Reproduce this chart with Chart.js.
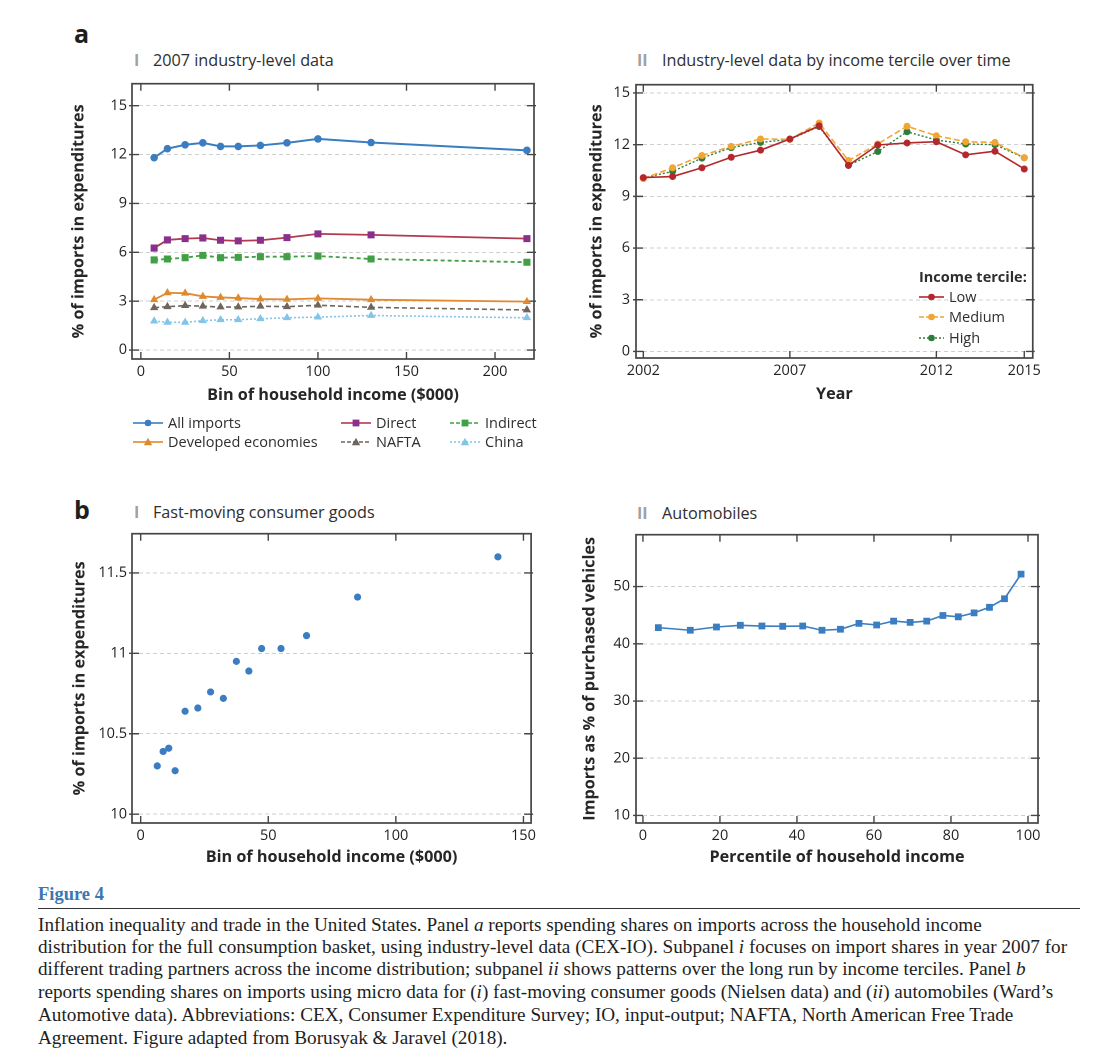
<!DOCTYPE html>
<html>
<head>
<meta charset="utf-8">
<script src="https://cdn.jsdelivr.net/npm/chart.js@4.4.1/dist/chart.umd.min.js"></script>
<style>
  html, body { margin: 0; padding: 0; background: #fff; }
  body { width: 1110px; height: 1062px; position: relative; overflow: hidden; font-family: 'Open Sans', sans-serif; color: #2b2b2b; }
  .abs { position: absolute; }
  .cv { position: absolute; }
  .panel { font-weight: 700; font-size: 25px; line-height: 24px; color: #1e1e1e; }
  .sub { font-size: 16.2px; line-height: 20px; color: #2e2e2e; white-space: nowrap; }
  .roman { color: #a0a0a0; font-size: 16px; line-height: 20px; font-weight: 700; }
  .leg { font-size: 14.5px; line-height: 18px; color: #2e2e2e; white-space: nowrap; display: flex; align-items: center; }
  .leg svg { margin-right: 5px; }
  .cap { font-family: 'Liberation Serif', 'DejaVu Serif', serif; font-size: 19.2px; line-height: 22px; color: #1e1e1e; white-space: nowrap; left: 38px; }
</style>
</head>
<body>

<div class="abs panel" style="left:74px; top:21px;">a</div>
<div class="abs roman" style="left:134px; top:50px;">I</div>
<div class="abs sub" style="left:153px; top:50px;">2007 industry-level data</div>
<div class="abs roman" style="left:637px; top:50px;">II</div>
<div class="abs sub" style="left:662px; top:50px;">Industry-level data by income tercile over time</div>

<div class="abs panel" style="left:74px; top:497px;">b</div>
<div class="abs roman" style="left:134px; top:502px;">I</div>
<div class="abs sub" style="left:153px; top:502px;">Fast-moving consumer goods</div>
<div class="abs roman" style="left:637px; top:503px;">II</div>
<div class="abs sub" style="left:662px; top:503px;">Automobiles</div>

<div class="cv" style="left:60px; top:70px; width:480px; height:345px;"><canvas id="cA1"></canvas></div>
<div class="cv" style="left:575px; top:70px; width:470px; height:345px;"><canvas id="cA2"></canvas></div>
<div class="cv" style="left:60px; top:520px; width:480px; height:360px;"><canvas id="cB1"></canvas></div>
<div class="cv" style="left:575px; top:520px; width:470px; height:360px;"><canvas id="cB2"></canvas></div>

<div id="legA1"></div>
<div id="legA2"></div>

<div class="abs" style="left:38px; top:883px; font-family:'Liberation Serif','DejaVu Serif',serif; font-weight:700; font-size:18.5px; line-height:22px; color:#3b78b0;">Figure 4</div>
<div class="abs" style="left:38px; top:908px; width:1042px; height:0; border-top:1.6px solid #333;"></div>
<div class="abs cap" style="top:914px;">Inflation inequality and trade in the United States. Panel <i>a</i> reports spending shares on imports across the household income</div>
<div class="abs cap" style="top:936px;">distribution for the full consumption basket, using industry-level data (CEX-IO). Subpanel <i>i</i> focuses on import shares in year 2007 for</div>
<div class="abs cap" style="top:958px;">different trading partners across the income distribution; subpanel <i>ii</i> shows patterns over the long run by income terciles. Panel <i>b</i></div>
<div class="abs cap" style="top:981px;">reports spending shares on imports using micro data for (<i>i</i>) fast-moving consumer goods (Nielsen data) and (<i>ii</i>) automobiles (Ward’s</div>
<div class="abs cap" style="top:1004px;">Automotive data). Abbreviations: CEX, Consumer Expenditure Survey; IO, input-output; NAFTA, North American Free Trade</div>
<div class="abs cap" style="top:1027px;">Agreement. Figure adapted from Borusyak &amp; Jaravel (2018).</div>

<script>
// ---------- DATA ----------
// Panel a-I: 2007 industry-level data
const incomeBinsA = [7.5, 15, 25, 35, 45, 55, 67.5, 82.5, 100, 130, 218];
const allImports = [11.81, 12.36, 12.6, 12.72, 12.5, 12.5, 12.56, 12.72, 12.96, 12.74, 12.26];
const directImports = [6.26, 6.76, 6.84, 6.88, 6.74, 6.7, 6.74, 6.9, 7.13, 7.07, 6.84];
const indirectImports = [5.53, 5.59, 5.67, 5.81, 5.67, 5.69, 5.73, 5.73, 5.77, 5.59, 5.39];
const developedImports = [3.09, 3.51, 3.49, 3.29, 3.23, 3.19, 3.13, 3.11, 3.17, 3.09, 2.97];
const naftaImports = [2.6, 2.66, 2.73, 2.69, 2.64, 2.64, 2.69, 2.66, 2.75, 2.62, 2.46];
const chinaImports = [1.78, 1.7, 1.7, 1.8, 1.86, 1.86, 1.92, 1.98, 2.02, 2.12, 1.98];
const ticksA1X = [0, 50, 100, 150, 200];
const ticksA1Y = [0, 3, 6, 9, 12, 15];

// Panel a-II: by income tercile over time
const years = [2002, 2003, 2004, 2005, 2006, 2007, 2008, 2009, 2010, 2011, 2012, 2013, 2014, 2015];
const lowTercile = [10.09, 10.15, 10.66, 11.27, 11.68, 12.33, 13.09, 10.8, 11.98, 12.1, 12.17, 11.41, 11.62, 10.59];
const mediumTercile = [10.03, 10.66, 11.37, 11.9, 12.33, 12.31, 13.26, 11.08, 12.04, 13.07, 12.52, 12.17, 12.13, 11.24];
const highTercile = [10.07, 10.45, 11.22, 11.83, 12.13, 12.31, 13.05, 10.8, 11.6, 12.75, 12.27, 12.04, 12.0, 11.24];
const ticksA2X = [2002, 2007, 2012, 2015];
const ticksA2Y = [0, 3, 6, 9, 12, 15];

// Panel b-I: fast-moving consumer goods
const fmcgIncome = [6.5, 8.8, 11, 13.5, 17.4, 22.4, 27.4, 32.4, 37.5, 42.4, 47.4, 55, 65, 85, 140];
const fmcgShare = [10.3, 10.39, 10.41, 10.27, 10.64, 10.66, 10.76, 10.72, 10.95, 10.89, 11.03, 11.03, 11.11, 11.35, 11.6];
const ticksB1X = [0, 50, 100, 150];
const ticksB1Y = [10, 10.5, 11, 11.5];

// Panel b-II: automobiles
const autoPercentile = [4, 12.3, 19.1, 25.3, 30.9, 36.3, 41.5, 46.5, 51.3, 56.1, 60.7, 65.1, 69.4, 73.7, 77.9, 81.9, 86, 90, 93.9, 98.2];
const autoShare = [42.83, 42.37, 42.94, 43.23, 43.11, 43.06, 43.11, 42.37, 42.54, 43.57, 43.29, 43.97, 43.74, 43.97, 44.95, 44.72, 45.41, 46.38, 47.88, 52.18];
const ticksB2X = [0, 20, 40, 60, 80, 100];
const ticksB2Y = [10, 20, 30, 40, 50];

// ---------- STYLE ----------
Chart.defaults.font.family = "'Open Sans', sans-serif";
Chart.defaults.color = '#1f1f1f';
Chart.defaults.animation = false;
Chart.defaults.devicePixelRatio = 2;

const C = {
  blue: '#3a7dc1', directLine: '#b23a4e', directPt: '#8a2f8e', green: '#41a046',
  orange: '#e0892e', nafta: '#6e665c', china: '#82c4ea',
  low: '#b3282d', med: '#f0a631', high: '#2f7d3a'
};

const pts = (xs, ys) => xs.map((x, i) => ({ x: x, y: ys[i] }));

const framePlugin = {
  id: 'frame',
  beforeDatasetsDraw(chart) {
    const { ctx, chartArea: a, scales } = chart;
    ctx.save();
    ctx.strokeStyle = '#454545';
    ctx.lineWidth = 1.7;
    ctx.strokeRect(a.left, a.top, a.right - a.left, a.bottom - a.top);
    ctx.lineWidth = 1.4;
    const L = 7;
    ctx.beginPath();
    scales.x.ticks.forEach(t => {
      const px = scales.x.getPixelForValue(t.value);
      ctx.moveTo(px, a.bottom); ctx.lineTo(px, a.bottom - L);
      ctx.moveTo(px, a.top); ctx.lineTo(px, a.top + L);
    });
    scales.y.ticks.forEach(t => {
      const py = scales.y.getPixelForValue(t.value);
      ctx.moveTo(a.left - 3, py); ctx.lineTo(a.left + L, py);
      ctx.moveTo(a.right + 2, py); ctx.lineTo(a.right - L, py);
    });
    ctx.stroke();
    ctx.restore();
  }
};

function makeOptions(cfg) {
  return {
    responsive: true,
    maintainAspectRatio: false,
    layout: { padding: { top: cfg.padTop, right: cfg.padRight, left: 0, bottom: 0 } },
    plugins: { legend: { display: false }, tooltip: { enabled: false } },
    scales: {
      x: {
        type: 'linear', min: cfg.xMin, max: cfg.xMax,
        afterBuildTicks: s => { s.ticks = cfg.xTicks.map(v => ({ value: v })); },
        afterFit: s => { s.height = cfg.xAxisH; },
        grid: { display: false, drawTicks: false },
        border: { display: false },
        ticks: { padding: 4, font: { size: 14.5 }, color: '#1f1f1f', maxRotation: 0, callback: v => String(v) },
        title: { display: true, text: cfg.xTitle, font: { size: 16.2, weight: 'bold' }, color: '#262626', padding: { top: 0, bottom: cfg.xTitlePad } }
      },
      y: {
        type: 'linear', min: cfg.yMin, max: cfg.yMax,
        afterBuildTicks: s => { s.ticks = cfg.yTicks.map(v => ({ value: v })); },
        afterFit: s => { s.width = cfg.yAxisW; },
        grid: { display: true, drawTicks: false, color: '#cfcfcf', lineWidth: 1 },
        border: { display: false, dash: [4, 3] },
        ticks: { padding: cfg.yTickPad, font: { size: 14.5 }, color: '#1f1f1f', callback: v => String(v) },
        title: { display: true, text: cfg.yTitle, font: { size: 16.2, weight: 'bold' }, color: '#262626', padding: { top: cfg.yTitlePad, bottom: 0 } }
      }
    }
  };
}

// ---------- a-I ----------
new Chart(document.getElementById('cA1'), {
  type: 'line',
  data: {
    datasets: [
      { label: 'All imports', data: pts(incomeBinsA, allImports), borderColor: C.blue, backgroundColor: C.blue, borderWidth: 2, pointStyle: 'circle', pointRadius: 3.8, pointBorderWidth: 0 },
      { label: 'Direct', data: pts(incomeBinsA, directImports), borderColor: C.directLine, backgroundColor: C.directPt, borderWidth: 1.8, pointStyle: 'rect', pointRadius: 5, pointBorderWidth: 0 },
      { label: 'Indirect', data: pts(incomeBinsA, indirectImports), borderColor: C.green, backgroundColor: C.green, borderWidth: 1.8, borderDash: [4, 3], pointStyle: 'rect', pointRadius: 5, pointBorderWidth: 0 },
      { label: 'Developed economies', data: pts(incomeBinsA, developedImports), borderColor: C.orange, backgroundColor: C.orange, borderWidth: 1.8, pointStyle: 'triangle', pointRadius: 4.8, pointBorderWidth: 0 },
      { label: 'NAFTA', data: pts(incomeBinsA, naftaImports), borderColor: C.nafta, backgroundColor: C.nafta, borderWidth: 1.6, borderDash: [5, 3], pointStyle: 'triangle', pointRadius: 4.8, pointBorderWidth: 0 },
      { label: 'China', data: pts(incomeBinsA, chinaImports), borderColor: C.china, backgroundColor: C.china, borderWidth: 1.6, borderDash: [2, 2], pointStyle: 'triangle', pointRadius: 4.8, pointBorderWidth: 0 }
    ]
  },
  options: makeOptions({
    padTop: 10, padRight: 6, xMin: -5, xMax: 222, yMin: -0.55, yMax: 16.35,
    xTicks: ticksA1X, yTicks: ticksA1Y, xAxisH: 56, yAxisW: 72, yTickPad: 5,
    xTitle: 'Bin of household income ($000)', yTitle: '% of imports in expenditures',
    xTitlePad: 10, yTitlePad: 9
  }),
  plugins: [framePlugin]
});

// ---------- a-II ----------
new Chart(document.getElementById('cA2'), {
  type: 'line',
  data: {
    datasets: [
      { label: 'Low', data: pts(years, lowTercile), borderColor: C.low, backgroundColor: C.low, borderWidth: 1.6, pointStyle: 'circle', pointRadius: 3.5, pointBorderWidth: 0 },
      { label: 'Medium', data: pts(years, mediumTercile), borderColor: C.med, backgroundColor: C.med, borderWidth: 1.6, borderDash: [6, 3], pointStyle: 'circle', pointRadius: 3.5, pointBorderWidth: 0 },
      { label: 'High', data: pts(years, highTercile), borderColor: C.high, backgroundColor: C.high, borderWidth: 1.4, borderDash: [2, 2], pointStyle: 'circle', pointRadius: 3.5, pointBorderWidth: 0 }
    ]
  },
  options: makeOptions({
    padTop: 12, padRight: 7, xMin: 2001.75, xMax: 2015.29, yMin: -0.38, yMax: 15.48,
    xTicks: ticksA2X, yTicks: ticksA2Y, xAxisH: 57, yAxisW: 61, yTickPad: 6,
    xTitle: 'Year', yTitle: '% of imports in expenditures',
    xTitlePad: 11, yTitlePad: 12
  }),
  plugins: [framePlugin]
});

// ---------- b-I ----------
new Chart(document.getElementById('cB1'), {
  type: 'scatter',
  data: {
    datasets: [
      { label: 'Fast-moving consumer goods', data: pts(fmcgIncome, fmcgShare), borderColor: C.blue, backgroundColor: C.blue, pointStyle: 'circle', pointRadius: 3.6, pointBorderWidth: 0, showLine: false }
    ]
  },
  options: makeOptions({
    padTop: 10, padRight: 6, xMin: -3.4, xMax: 153, yMin: 9.945, yMax: 11.744,
    xTicks: ticksB1X, yTicks: ticksB1Y, xAxisH: 57, yAxisW: 72, yTickPad: 5,
    xTitle: 'Bin of household income ($000)', yTitle: '% of imports in expenditures',
    xTitlePad: 13, yTitlePad: 10
  }),
  plugins: [framePlugin]
});

// ---------- b-II ----------
new Chart(document.getElementById('cB2'), {
  type: 'line',
  data: {
    datasets: [
      { label: 'Automobiles', data: pts(autoPercentile, autoShare), borderColor: C.blue, backgroundColor: C.blue, borderWidth: 1.6, pointStyle: 'rect', pointRadius: 4.8, pointBorderWidth: 0 }
    ]
  },
  options: makeOptions({
    padTop: 10, padRight: 7, xMin: -1.8, xMax: 102.6, yMin: 8.68, yMax: 59.07,
    xTicks: ticksB2X, yTicks: ticksB2Y, xAxisH: 57, yAxisW: 61, yTickPad: 6,
    xTitle: 'Percentile of household income', yTitle: 'Imports as % of purchased vehicles',
    xTitlePad: 13, yTitlePad: 5
  }),
  plugins: [framePlugin]
});

// ---------- HTML legends ----------
function icon(w, color, dash, marker, lineColor) {
  const lc = lineColor || color;
  const da = dash ? ` stroke-dasharray="${dash}"` : '';
  const cx = w / 2, cy = 6;
  let m = '';
  if (marker === 'circle') m = `<circle cx="${cx}" cy="${cy}" r="3.3" fill="${color}"/>`;
  if (marker === 'rect') m = `<rect x="${cx - 3.4}" y="${cy - 3.4}" width="6.8" height="6.8" fill="${color}"/>`;
  if (marker === 'triangle') m = `<polygon points="${cx},${cy - 4.2} ${cx + 4.2},${cy + 3.2} ${cx - 4.2},${cy + 3.2}" fill="${color}"/>`;
  return `<svg width="${w}" height="12" viewBox="0 0 ${w} 12"><line x1="0" y1="${cy}" x2="${w}" y2="${cy}" stroke="${lc}" stroke-width="1.6"${da}/>${m}</svg>`;
}
const legA1Items = [
  { t: 'All imports', x: 133, y: 423, c: C.blue, m: 'circle' },
  { t: 'Direct', x: 341, y: 423, c: C.directPt, m: 'rect', lc: C.directLine },
  { t: 'Indirect', x: 450, y: 423, c: C.green, m: 'rect', d: '4 2' },
  { t: 'Developed economies', x: 133, y: 442, c: C.orange, m: 'triangle' },
  { t: 'NAFTA', x: 341, y: 442, c: C.nafta, m: 'triangle', d: '4 2' },
  { t: 'China', x: 450, y: 442, c: C.china, m: 'triangle', d: '2 2' }
];
document.getElementById('legA1').innerHTML = legA1Items.map(it =>
  `<div class="abs leg" style="left:${it.x}px; top:${it.y - 9}px;">${icon(30, it.c, it.d, it.m, it.lc)}<span>${it.t}</span></div>`).join('');

const legA2Items = [
  { t: 'Low', y: 297, c: C.low },
  { t: 'Medium', y: 317, c: C.med, d: '5 2' },
  { t: 'High', y: 338, c: C.high, d: '2 2' }
];
document.getElementById('legA2').innerHTML =
  `<div class="abs leg" style="left:919px; top:268px; font-weight:700;">Income tercile:</div>` +
  legA2Items.map(it => `<div class="abs leg" style="left:919px; top:${it.y - 9}px;">${icon(25, it.c, it.d, 'circle')}<span>${it.t}</span></div>`).join('');
</script>
</body>
</html>
